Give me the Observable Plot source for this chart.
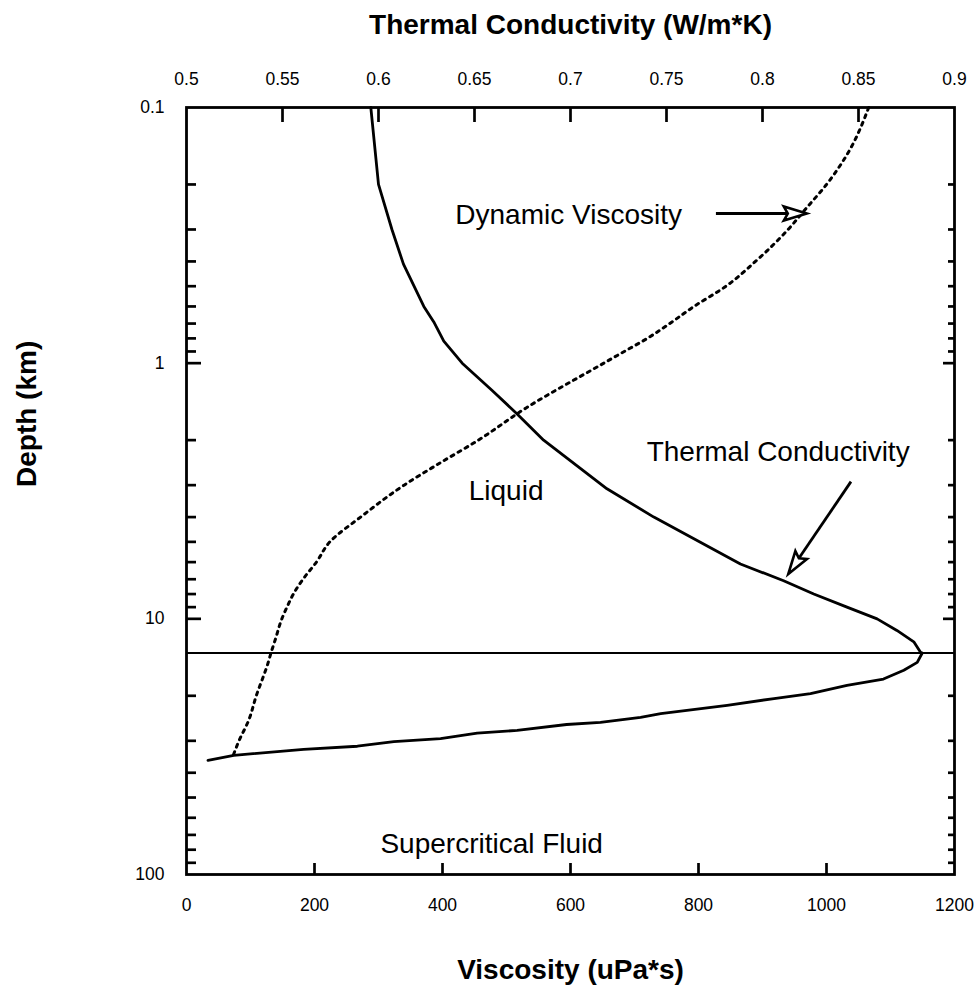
<!DOCTYPE html>
<html>
<head>
<meta charset="utf-8">
<script src="https://cdn.jsdelivr.net/npm/d3@7"></script>
<script src="https://cdn.jsdelivr.net/npm/@observablehq/plot@0.6"></script>
<style>
  html, body { margin: 0; padding: 0; background: #fff; }
  #chart svg { display: block; }
</style>
</head>
<body>
<div id="chart"></div>
<script>
// Dynamic viscosity of water with depth (uPa*s), dotted curve
const viscDepth = [0.1, 0.15, 0.2, 0.25, 0.3, 0.4, 0.5, 0.6, 0.7, 0.8, 0.9, 1, 1.5, 2, 2.5, 3, 4, 5, 6, 7, 8, 9, 10, 12, 13.6, 15, 20, 25, 30, 34.2];
const viscosity = [1066, 1034, 1000, 967, 940, 889, 843, 793, 755, 720, 684, 652, 530, 456, 391, 340, 272, 224, 203, 182, 167, 157, 149, 139, 132, 127, 109, 97, 82, 73];

// Thermal conductivity with depth (W/m*K), solid curve
const condDepth = [0.1, 0.2, 0.3, 0.41, 0.6, 0.69, 0.82, 1, 1.28, 1.58, 2, 3.1, 4, 6.1, 7.1, 8, 9, 10, 11.1, 12.3, 13.5, 13.6, 14.8, 15.9, 17.2, 18.2, 19.6, 20.5, 21.8, 23.5, 24.3, 25.4, 25.9, 27.3, 28, 29.4, 30.2, 31.5, 32.4, 34.2, 35.8];
const conductivity = [0.596, 0.600, 0.607, 0.613, 0.6236, 0.6288, 0.634, 0.6436, 0.6592, 0.6722, 0.686, 0.719, 0.7434, 0.7885, 0.811, 0.8267, 0.844, 0.8597, 0.870, 0.8788, 0.8823, 0.8832, 0.8806, 0.8736, 0.863, 0.844, 0.825, 0.806, 0.7816, 0.747, 0.7365, 0.7156, 0.698, 0.6722, 0.6514, 0.6323, 0.608, 0.589, 0.561, 0.5246, 0.5112];

// Liquid / supercritical boundary depth (km)
const criticalDepth = 13.6;

// Axis ticks
const viscTicks = [0, 200, 400, 600, 800, 1000, 1200];
const condTicks = [0.5, 0.55, 0.6, 0.65, 0.7, 0.75, 0.8, 0.85, 0.9];
const depthLabels = [0.1, 1, 10, 100];
const depthMajor = [1, 10];

// Annotations (data coordinates: viscosity, depth)
const labels = [
  {x: 420, y: 0.286, text: "Dynamic Viscosity"},
  {x: 719, y: 2.41, text: "Thermal Conductivity"},
  {x: 441, y: 3.43, text: "Liquid"},
  {x: 303, y: 82.5, text: "Supercritical Fluid"}
];
const pointers = [
  {x1: 828, y1: 0.261, x2: 970, y2: 0.261},
  {x1: 1039, y1: 2.92, x2: 941, y2: 6.71}
];

// The conductivity axis (0.5 to 0.9) shares the frame with viscosity (0 to 1200)
const condMin = 0.5, condMax = 0.9, viscMax = 1200;
const toVisc = k => (k - condMin) / (condMax - condMin) * viscMax;
const toCond = v => condMin + v / viscMax * (condMax - condMin);
const fmt = d3.format("~g");

const viscRows = viscDepth.map((d, i) => ({depth: d, v: viscosity[i]}));
const condRows = condDepth.map((d, i) => ({depth: d, k: conductivity[i]}));

// Minor log ticks on the depth axis
const depthMinor = [];
for (const dec of [0.1, 1, 10]) for (let m = 2; m <= 9; m++) depthMinor.push(+(m * dec).toPrecision(3));

const innerX = viscTicks.slice(1, -1);
const innerCond = condTicks.slice(1, -1).map(toVisc);

// Hollow arrowheads drawn at the end of each pointer
function arrowHeads(index, scales) {
  const ns = "http://www.w3.org/2000/svg";
  const g = document.createElementNS(ns, "g");
  for (const p of pointers) {
    const ax = scales.x(p.x1), ay = scales.y(p.y1);
    const bx = scales.x(p.x2), by = scales.y(p.y2);
    const len = Math.hypot(bx - ax, by - ay);
    const ux = (bx - ax) / len, uy = (by - ay) / len;
    const nx = -uy, ny = ux;
    const L = 23, W = 7, notch = 4;
    const bxb = bx - ux * L, byb = by - uy * L;
    const pts = [
      [bx, by],
      [bxb + nx * W, byb + ny * W],
      [bx - ux * (L - notch), by - uy * (L - notch)],
      [bxb - nx * W, byb - ny * W]
    ];
    const shaft = document.createElementNS(ns, "path");
    shaft.setAttribute("d", `M${ax},${ay}L${bx - ux * (L - notch)},${by - uy * (L - notch)}`);
    shaft.setAttribute("stroke", "black");
    shaft.setAttribute("stroke-width", 2.8);
    g.appendChild(shaft);
    const head = document.createElementNS(ns, "path");
    head.setAttribute("d", "M" + pts.map(q => q.join(",")).join("L") + "Z");
    head.setAttribute("fill", "white");
    head.setAttribute("stroke", "black");
    head.setAttribute("stroke-width", 2.6);
    head.setAttribute("stroke-linejoin", "miter");
    g.appendChild(head);
  }
  return g;
}

const chart = Plot.plot({
  width: 976,
  height: 1008,
  marginLeft: 186,
  marginRight: 22,
  marginTop: 107,
  marginBottom: 134,
  style: {fontFamily: "'Liberation Sans', Arial, sans-serif", fontSize: "17px", color: "black", background: "white"},
  x: {domain: [0, viscMax]},
  y: {type: "log", domain: [0.1, 100], reverse: true},
  marks: [
    // tick labels
    Plot.axisX({anchor: "bottom", ticks: viscTicks, tickFormat: d => String(d), tickSize: 0, tickPadding: 24, fontSize: 17.5, label: null}),
    Plot.axisX({anchor: "top", ticks: condTicks.map(toVisc), tickFormat: v => fmt(+toCond(v).toFixed(3)), tickSize: 0, tickPadding: 23, fontSize: 17.5, label: null}),
    Plot.axisY({anchor: "left", ticks: depthLabels, tickFormat: d => String(d), tickSize: 0, tickPadding: 22, fontSize: 17.5, label: null}),
    // inward ticks
    Plot.axisX({anchor: "bottom", ticks: innerX, tickFormat: () => "", tickSize: -11, strokeWidth: 2.7, label: null}),
    Plot.axisX({anchor: "top", ticks: innerCond, tickFormat: () => "", tickSize: -14, strokeWidth: 2.7, label: null}),
    Plot.axisY({anchor: "left", ticks: depthMinor, tickFormat: () => "", tickSize: -10, strokeWidth: 2.7, label: null}),
    Plot.axisY({anchor: "left", ticks: depthMajor, tickFormat: () => "", tickSize: -15, strokeWidth: 2.7, label: null}),
    Plot.axisY({anchor: "right", ticks: depthMinor, tickFormat: () => "", tickSize: -7, strokeWidth: 2.7, label: null}),
    Plot.axisY({anchor: "right", ticks: depthMajor, tickFormat: () => "", tickSize: -12, strokeWidth: 2.7, label: null}),
    // phase boundary
    Plot.ruleY([criticalDepth], {strokeWidth: 2}),
    // curves
    Plot.line(viscRows, {x: "v", y: "depth", stroke: "black", strokeWidth: 3, strokeDasharray: "3,5", curve: "monotone-y"}),
    Plot.line(condRows, {x: d => toVisc(d.k), y: "depth", stroke: "black", strokeWidth: 2.8, strokeLinejoin: "round"}),
    // annotations
    Plot.text(labels, {x: "x", y: "y", text: "text", textAnchor: "start", lineAnchor: "bottom", fontSize: 28}),
    arrowHeads,
    Plot.frame({stroke: "black", strokeWidth: 2.8}),
    // axis titles
    Plot.text(["Thermal Conductivity (W/m*K)"], {text: d => d, frameAnchor: "top", dy: -74, lineAnchor: "bottom", fontSize: 28, fontWeight: "bold"}),
    Plot.text(["Viscosity (uPa*s)"], {text: d => d, frameAnchor: "bottom", dy: 104, lineAnchor: "bottom", fontSize: 28, fontWeight: "bold"}),
    Plot.text(["Depth (km)"], {text: d => d, frameAnchor: "left", dx: -151, dy: -4, rotate: -90, lineAnchor: "bottom", fontSize: 28, fontWeight: "bold"})
  ]
});

document.getElementById("chart").appendChild(chart);
</script>
</body>
</html>
